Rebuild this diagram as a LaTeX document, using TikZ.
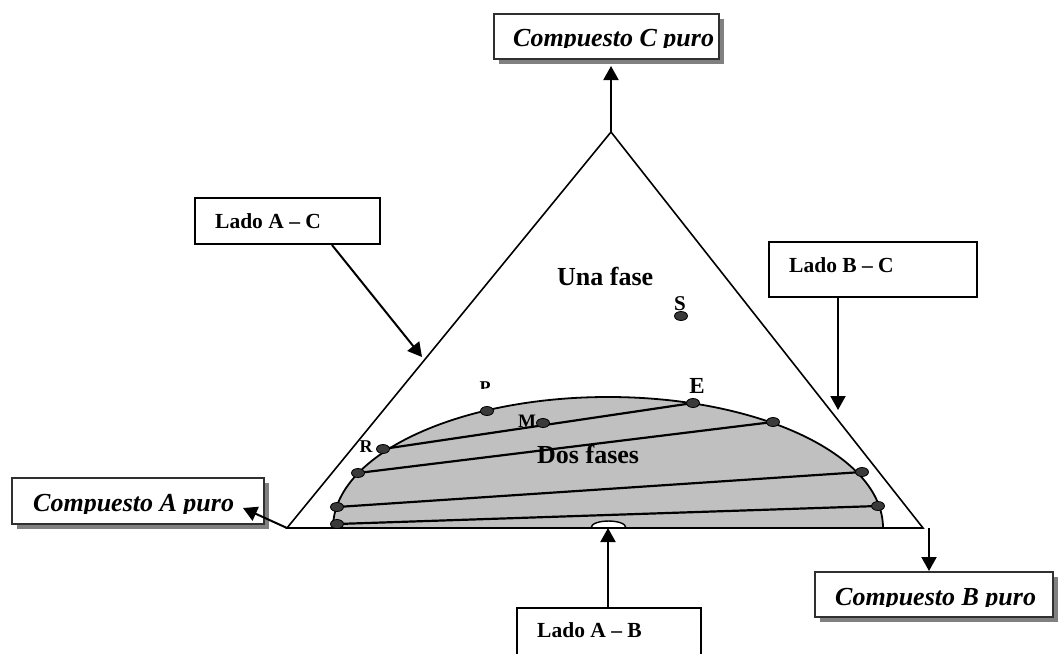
\documentclass[tikz,border=0pt]{standalone}
\usepackage{fontspec}
\setmainfont{Liberation Serif}
\usetikzlibrary{arrows.meta,shapes.geometric,shadows,calc}
\definecolor{domegray}{HTML}{C0C0C0}
\definecolor{dotgray}{HTML}{3A3A3A}
\definecolor{shadegray}{HTML}{808080}
\definecolor{rimgray}{HTML}{303030}
\begin{document}
\begin{tikzpicture}[x=1pt,y=-1pt,
  side/.style={line width=1.6pt},
  tie/.style={line width=2.2pt},
  arr/.style={line width=2pt,-{Triangle[length=14pt,width=15pt]}},
  phasedot/.style={ellipse,draw=black,line width=0.8pt,fill=dotgray,minimum width=13pt,minimum height=9pt,inner sep=0pt},
  purebox/.style={draw=rimgray,line width=2pt,fill=white,anchor=north west,inner sep=0pt,
    drop shadow={shadow xshift=5pt,shadow yshift=-5pt,fill=shadegray,opacity=1}},
  sidebox/.style={draw=black,line width=2pt,fill=white,anchor=north west,inner sep=0pt},
  puretext/.style={anchor=base west,inner sep=0pt,font=\fontsize{26}{30}\selectfont\bfseries\itshape},
  sidetext/.style={anchor=base west,inner sep=0pt,font=\fontsize{21.5}{26}\selectfont\bfseries},
  phasetext/.style={anchor=base west,inner sep=0pt,font=\fontsize{26}{30}\selectfont\bfseries},
  ptlabel/.style={anchor=base,inner sep=0pt,font=\bfseries}]
\useasboundingbox (0,0) rectangle (1062,653);

% ternary triangle corners
\coordinate (A) at (287,528);
\coordinate (B) at (923,528);
\coordinate (C) at (611,132);

% two-phase dome (half ellipse on side A-B)
\coordinate (dL) at (333,528);
\coordinate (dR) at (883,528);
\fill[domegray] (dL) .. controls (333,455.6) and (456,397) .. (608,397)
  .. controls (760,397) and (883,455.6) .. (dR) -- cycle;

% points on the binodal curve
\coordinate (t1l) at (337,524); \coordinate (t1r) at (878,506);
\coordinate (t2l) at (337,507); \coordinate (t2r) at (862,472);
\coordinate (t3l) at (358,473); \coordinate (t3r) at (773,422);
\coordinate (R) at (383,449);   \coordinate (E) at (693,403);
\coordinate (P) at (487,411);
\coordinate (M) at (543,423);
\coordinate (S) at (681,316);

% tie lines
\draw[tie] (t1l) -- (t1r);
\draw[tie] (t2l) -- (t2r);
\draw[tie] (t3l) -- (t3r);
\draw[tie] (R) -- (E);

% binodal outline
\draw[line width=1.8pt] (dL) .. controls (333,455.6) and (456,397) .. (608,397)
  .. controls (760,397) and (883,455.6) .. (dR);

% triangle
\draw[side,line join=miter] (A) -- (B) -- (C) -- cycle;

% small bump on side A-B
\draw[line width=1.4pt,fill=white] (591,528) .. controls (591,518.7) and (626,518.7) .. (626,528);
\draw[side] (591,528) -- (626,528);

% dots
\foreach \p in {t1l,t1r,t2l,t2r,t3l,t3r,R,E,P,M,S}
  \node[phasedot] (d\p) at (\p) {};

% phase labels
\node[phasetext] (una) at (557,285) {Una fase};
\node[phasetext] (dos) at (537,463) {Dos fases};

% point labels
\node[ptlabel,font=\fontsize{18}{20}\selectfont\bfseries] (lR) at (366,452) {R};
\node[ptlabel,font=\fontsize{19}{20}\selectfont\bfseries] (lM) at (527,427) {M};
\node[ptlabel,font=\fontsize{23}{24}\selectfont\bfseries] (lE) at (697,393) {E};
\node[ptlabel,font=\fontsize{21}{24}\selectfont\bfseries] (lS) at (680,310) {S};
\begin{scope}
  \clip (470,370) rectangle (500,388);
  \node[ptlabel,font=\fontsize{18}{20}\selectfont\bfseries] (lP) at (485,393) {P};
\end{scope}

% pure-component boxes
\node[purebox,minimum width=225pt,minimum height=45pt] (boxC) at (493,13) {};
\node[purebox,minimum width=252pt,minimum height=46pt] (boxA) at (11,477) {};
\node[purebox,minimum width=238pt,minimum height=45pt] (boxB) at (814,571) {};
\begin{scope}
  \clip (493,13) rectangle (718,47.5);
  \node[puretext] (tC) at (513,46.5) {Compuesto C puro};
\end{scope}
\begin{scope}
  \clip (11,477) rectangle (263,513);
  \node[puretext] (tA) at (33,511.7) {Compuesto A puro};
\end{scope}
\begin{scope}
  \clip (814,571) rectangle (1052,606.5);
  \node[puretext] (tB) at (835,605) {Compuesto B puro};
\end{scope}

% side boxes
\node[sidebox,minimum width=185pt,minimum height=46pt] (bAC) at (194,197) {};
\node[sidebox,minimum width=208pt,minimum height=55pt] (bBC) at (768,241) {};
\node[sidebox,minimum width=184pt,minimum height=60pt] (bAB) at (516,607) {};
\node[sidetext] (tAC) at (215,228) {Lado A – C};
\node[sidetext] (tBC) at (789,272) {Lado B – C};
\node[sidetext] (tAB) at (537,637) {Lado A – B};

% arrows
\coordinate (hitAC) at (422,357);
\coordinate (hitBC) at (838,410);
\coordinate (hitAB) at (608,528);
\draw[arr] ($(bAC.south west)+(138,0)$) -- (hitAC);
\draw[arr] ($(bBC.south west)+(70,0)$) -- (hitBC);
\draw[arr] ($(bAB.north west)+(92,0)$) -- (hitAB);
\draw[arr] (C) -- ($(C)+(0,-66)$);
\draw[arr] (A) -- (243,508);
\draw[arr] ($(B)+(6,0)$) -- ($(B)+(6,43)$);
\end{tikzpicture}
\end{document}
